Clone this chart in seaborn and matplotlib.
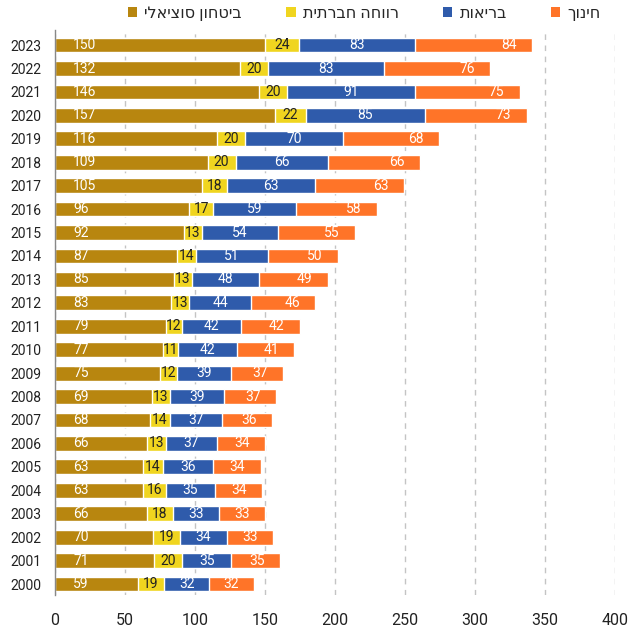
import matplotlib
matplotlib.use("Agg")
import matplotlib.pyplot as plt
from matplotlib.patches import Patch
import numpy as np
import pandas as pd
import seaborn as sns

# data (billions)
years = list(range(2000, 2024))
social_security = [59, 71, 70, 66, 63, 63, 66, 68, 69, 75, 77, 79, 83, 85, 87, 92, 96, 105, 109, 116, 157, 146, 132, 150]
welfare = [19, 20, 19, 18, 16, 14, 13, 14, 13, 12, 11, 12, 13, 13, 14, 13, 17, 18, 20, 20, 22, 20, 20, 24]
health = [32, 35, 34, 33, 35, 36, 37, 37, 39, 39, 42, 42, 44, 48, 51, 54, 59, 63, 66, 70, 85, 91, 83, 83]
education = [32, 35, 33, 33, 34, 34, 34, 36, 37, 37, 41, 42, 46, 49, 50, 55, 58, 63, 66, 68, 73, 75, 76, 84]

series_names = ["ביטחון סוציאלי", "רווחה חברתית", "בריאות", "חינוך"]
colors = ["#B8860F", "#F0D51F", "#2F5BAB", "#FF7428"]
label_colors = ["white", "#222222", "white", "white"]

sns.set_theme(style="white")
plt.rcParams["font.family"] = ["Roboto", "DejaVu Sans"]

def rtl(s):
    # matplotlib has no bidi support, flip hebrew for display
    return s[::-1]

df = pd.DataFrame({"year": [str(y) for y in years],
                   "s0": social_security, "s1": welfare, "s2": health, "s3": education})
df = df.iloc[::-1].reset_index(drop=True)  # 2023 on top
vals = df[["s0", "s1", "s2", "s3"]].values
cum = np.cumsum(vals, axis=1)
order = list(df["year"])

fig = plt.figure(figsize=(6.28, 6.27), dpi=100)
ax = fig.add_axes([0.0876, 0.051, 0.8917, 0.901])

# draw cumulative bars back to front so they stack
for k in range(3, -1, -1):
    sns.barplot(x=cum[:, k], y=df["year"], order=order, orient="h", color=colors[k],
                edgecolor="white", linewidth=1.0, width=0.63, ax=ax, saturation=1)

for i in range(len(df)):
    for k in range(4):
        v = vals[i, k]
        start = cum[i, k] - v
        end = cum[i, k]
        if k == 0:
            ax.text(start + 13, i, str(v), ha="left", va="center", color=label_colors[k], fontsize=10)
        elif k == 3:
            ax.text(end - 11, i, str(v), ha="right", va="center", color=label_colors[k], fontsize=10)
        else:
            ax.text((start + end) / 2, i, str(v), ha="center", va="center", color=label_colors[k], fontsize=10)

ax.set_xlim(0, 400)
ax.set_ylim(23.47, -0.64)
ax.set_xticks(range(0, 401, 50))
ax.set_xlabel("")
ax.set_ylabel("")
ax.set_axisbelow(True)
ax.xaxis.grid(True, linestyle=(0, (4, 4)), color="#C4C4C4", linewidth=1)
ax.yaxis.grid(False)
for side in ["top", "right", "bottom"]:
    ax.spines[side].set_visible(False)
ax.spines["left"].set_color("#888888")
ax.spines["left"].set_linewidth(1)
ax.tick_params(axis="x", labelsize=11.5, colors="#222222", length=0, pad=13)
ax.tick_params(axis="y", labelsize=10, colors="#222222", length=0, pad=10)

handles = [Patch(facecolor=c, edgecolor="none") for c in colors]
fig.legend(handles, [rtl(n) for n in series_names], loc="center", bbox_to_anchor=(0.58, 0.979),
           ncol=4, frameon=False, fontsize=11.5, handlelength=0.6, handleheight=0.6,
           handletextpad=0.45, columnspacing=2.75)

fig.savefig("out.png", dpi=100)
